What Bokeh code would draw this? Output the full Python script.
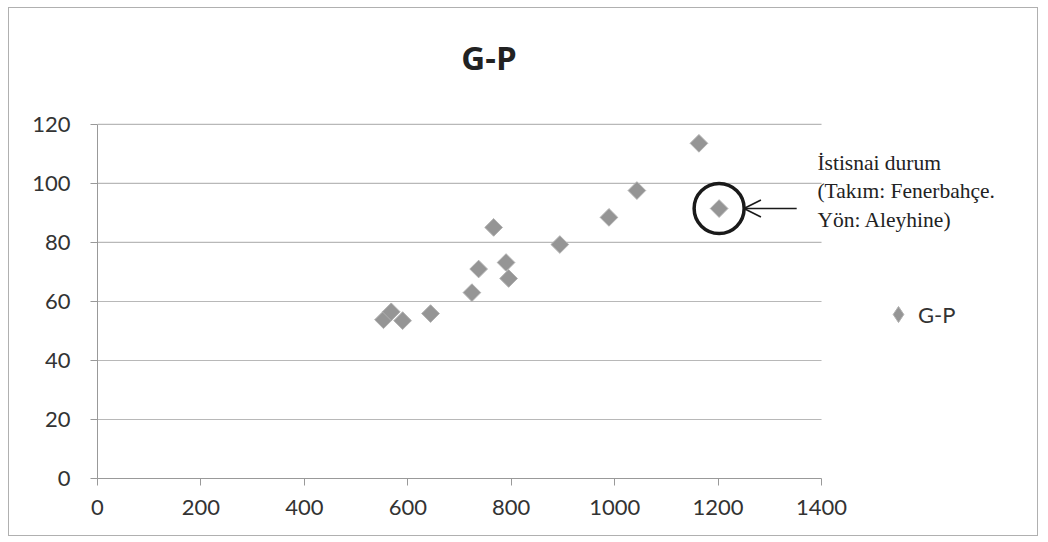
import math
from bokeh.plotting import figure
from bokeh.models import (Label, Arrow, OpenHead, Legend, LegendItem,
                          FixedTicker, Range1d, ColumnDataSource)
from bokeh.embed import file_html
from bokeh.resources import INLINE

# ---- data ----
title_text = "G-P"
series_name = "G-P"
gp_x = [553, 568, 590, 644, 724, 737, 766, 790, 795, 894, 989, 1043, 1163, 1202]
gp_y = [53.8, 56.5, 53.5, 55.9, 63.0, 71.0, 85.1, 73.2, 67.8, 79.3, 88.5, 97.6, 113.6, 91.5]
x_ticks = [0, 200, 400, 600, 800, 1000, 1200, 1400]
y_ticks = [0, 20, 40, 60, 80, 100, 120]
exception_x = [1202]
exception_y = [91.5]
note_lines = ["İstisnai durum", "(Takım: Fenerbahçe.", "Yön: Aleyhine)"]

FONT = "Lato"
X_MAX, Y_MAX = x_ticks[-1], y_ticks[-1]

p = figure(width=1030, height=529, output_backend="svg", toolbar_location=None,
           x_range=Range1d(0, 1821.5), y_range=Range1d(0, 159.3),
           min_border_left=88, min_border_right=0, min_border_top=0,
           min_border_bottom=59)
p.styles = {"border": "1px solid #b0b0b0", "margin-left": "8px", "margin-top": "7px"}
p.outline_line_color = None
p.background_fill_color = "white"
p.border_fill_color = "white"

# grid (drawn only across the plot area 0..1400)
p.xgrid.grid_line_color = None
p.ygrid.grid_line_color = None
grid_y = [t for t in y_ticks if t > 0]
p.segment(x0=[0] * len(grid_y), x1=[X_MAX] * len(grid_y), y0=grid_y, y1=grid_y,
          line_color="#b8b8b8", line_width=1.2)

# axes
for ax in (p.xaxis[0], p.yaxis[0]):
    ax.axis_line_color = "#999999"
    ax.major_tick_line_color = "#999999"
    ax.minor_tick_line_color = None
    ax.major_tick_in = 0
    ax.major_tick_out = 7
    ax.major_label_text_font = FONT
    ax.major_label_text_font_size = "22px"
    ax.major_label_text_color = "#333333"
p.xaxis.ticker = FixedTicker(ticks=x_ticks)
p.yaxis.ticker = FixedTicker(ticks=y_ticks)
p.xaxis.bounds = (0, X_MAX)
p.yaxis.bounds = (0, Y_MAX)
p.xaxis.major_label_standoff = 14
p.yaxis.major_label_standoff = 20

# points
src = ColumnDataSource(dict(x=gp_x, y=gp_y))
p.scatter("x", "y", source=src, marker="square", size=12.5, angle=math.pi / 4,
          fill_color="#959595", line_color="#b0b0b0", line_width=1)

# legend symbol renderer (a NaN point: never drawn in the plot, only in the legend)
leg_r = p.scatter([float("nan")], [float("nan")], marker="diamond", size=16,
                  fill_color="#959595", line_color="#b0b0b0", line_width=1)

# exception circle + arrow
p.scatter(exception_x, exception_y, marker="circle", size=50, fill_color=None,
          line_color="#1a1a1a", line_width=3.5)
p.add_layout(Arrow(end=OpenHead(size=17, line_width=1.6, line_color="#1a1a1a"),
                   x_start=1352, y_start=exception_y[0], x_end=1250, y_end=exception_y[0],
                   line_width=1.6, line_color="#1a1a1a"))

# note text
for i, t in enumerate(note_lines):
    p.add_layout(Label(x=1392, y=107.1 - i * 9.7, text=t, text_font="Liberation Serif",
                       text_font_size="21.5px", text_color="#222222",
                       text_baseline="middle", text_align="left"))

# title
p.add_layout(Label(x=757, y=142.7, text=title_text, text_font="Open Sans",
                   text_font_style="bold", text_font_size="33px", text_color="#222222",
                   text_align="center", text_baseline="middle"))

# legend
legend = Legend(items=[LegendItem(label=series_name, renderers=[leg_r])],
                location=(781, 144), border_line_color=None, background_fill_alpha=0,
                label_text_font=FONT, label_text_font_size="22px",
                label_text_color="#333333", glyph_width=40, glyph_height=40,
                label_standoff=-6, padding=0, margin=0)
p.add_layout(legend, "center")

open("out.html", "w").write(file_html(p, INLINE))
